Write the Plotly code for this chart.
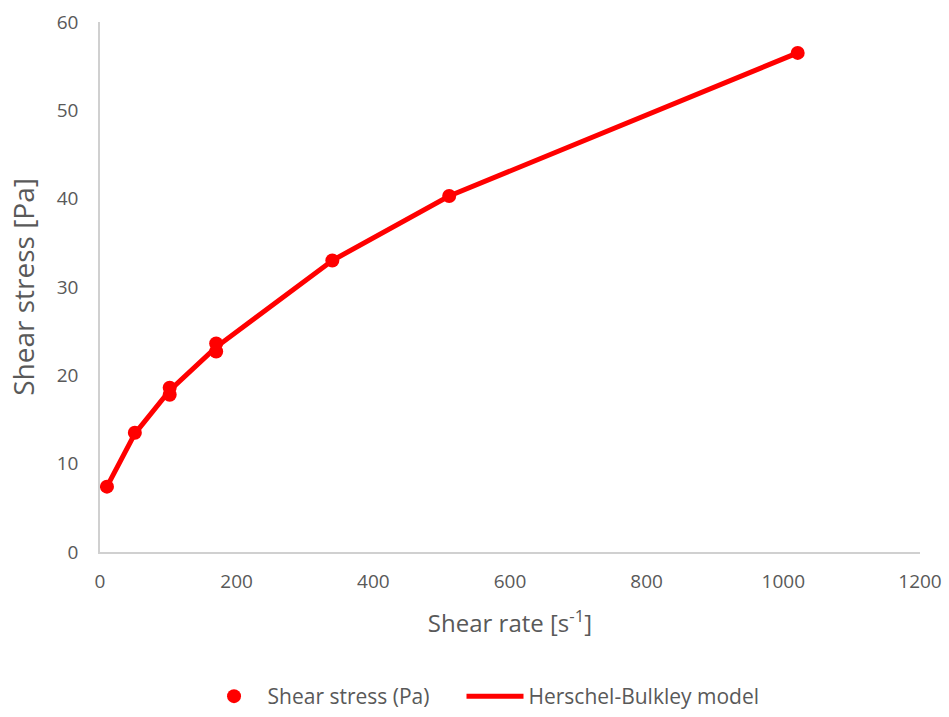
import plotly.graph_objects as go

shear_rate_data = [10.2, 51, 102, 102, 170, 170, 340, 511, 1021]
shear_stress_data = [7.4, 13.5, 18.6, 17.8, 23.6, 22.7, 33.0, 40.3, 56.5]

model_rate = [10.2, 51, 102, 170, 340, 511, 1021]
model_stress = [7.4, 13.4, 18.3, 23.2, 33.0, 40.3, 56.5]

x_ticks = [0, 200, 400, 600, 800, 1000, 1200]
y_ticks = [0, 10, 20, 30, 40, 50, 60]

gray = "#595959"
red = "#FF0000"
font = "Open Sans"

fig = go.Figure()
fig.add_trace(go.Scatter(
    x=shear_rate_data, y=shear_stress_data, mode="markers",
    name="Shear stress (Pa)",
    marker=dict(color=red, size=14),
    legend="legend",
))
fig.add_trace(go.Scatter(
    x=model_rate, y=model_stress, mode="lines",
    name="Herschel-Bulkley model",
    line=dict(color=red, width=5),
    legend="legend2",
))

legend_common = dict(
    orientation="h", xref="container", yref="container",
    xanchor="left", y=-0.006, yanchor="bottom",
    font=dict(family=font, size=21, color=gray),
    itemwidth=57,
)

fig.update_layout(
    width=949, height=717,
    margin=dict(l=100, r=29, t=22, b=165),
    paper_bgcolor="white", plot_bgcolor="white",
    font=dict(family=font, color=gray),
    showlegend=True,
    legend=dict(x=0.2113, **legend_common),
    legend2=dict(x=0.4863, **legend_common),
)
fig.update_xaxes(
    range=[0, 1200], tickvals=x_ticks, ticktext=[str(v) for v in x_ticks],
    showline=True, linecolor="#D0D0D0", linewidth=1.5,
    showgrid=False, zeroline=False, automargin=False,
    ticks="", ticklabelstandoff=11,
    tickfont=dict(family=font, size=19, color=gray),
    title=dict(text="Shear rate [s<sup>-1</sup>]",
               font=dict(family=font, size=24, color=gray),
               standoff=23),
)
fig.update_yaxes(
    range=[0, 60], tickvals=y_ticks,
    showline=True, linecolor="#D0D0D0", linewidth=1.5,
    showgrid=False, zeroline=False, automargin=False,
    ticks="", ticklabelstandoff=16,
    tickfont=dict(family=font, size=19, color=gray),
    title=dict(text="Shear stress [Pa]",
               font=dict(family=font, size=28, color=gray),
               standoff=14),
)

fig.write_html("out.html")
